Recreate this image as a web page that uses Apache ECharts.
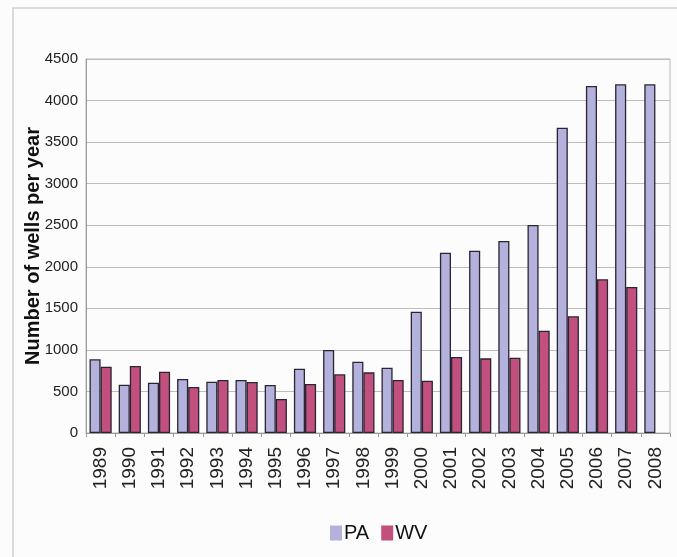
<!DOCTYPE html>
<html>
<head>
<meta charset="utf-8">
<script src="https://cdn.jsdelivr.net/npm/echarts@6/dist/echarts.min.js"></script>
<style>
  html, body { margin: 0; padding: 0; background: #fcfcfc; }
  #chart { width: 677px; height: 557px; }
</style>
</head>
<body>
<div id="chart"></div>
<script>
// years on the x axis
var years = ['1989', '1990', '1991', '1992', '1993', '1994', '1995', '1996', '1997', '1998',
	'1999', '2000', '2001', '2002', '2003', '2004', '2005', '2006', '2007', '2008'];

// wells per year
var paWells = [887, 581, 605, 650, 618, 638, 578, 774, 999, 858,
	786, 1460, 2170, 2194, 2310, 2503, 3674, 4176, 4196, 4196];
var wvWells = [798, 806, 738, 553, 638, 614, 409, 590, 706, 730,
	638, 630, 914, 898, 906, 1231, 1404, 1850, 1757, null];

var yTicks = [0, 500, 1000, 1500, 2000, 2500, 3000, 3500, 4000, 4500];

var chart = echarts.init(document.getElementById('chart'));

chart.setOption({
	backgroundColor: '#fcfcfc',
	animation: false,
	graphic: [{
		type: 'rect',
		shape: { x: 13, y: 8, width: 680, height: 560 },
		style: { fill: 'none', stroke: '#cfcfcf', lineWidth: 1.5 },
		silent: true
	}],
	grid: {
		left: 86,
		right: 7,
		top: 59,
		bottom: 124,
		show: true,
		borderColor: '#b8b8b8',
		borderWidth: 1
	},
	legend: {
		data: ['PA', 'WV'],
		left: 325,
		top: 518,
		itemWidth: 12,
		itemHeight: 15,
		itemGap: 12,
		icon: 'rect',
		itemStyle: { borderWidth: 0 },
		textStyle: {
			fontFamily: '"Liberation Sans", Arial, sans-serif',
			fontSize: 20,
			color: '#111',
			padding: [0, 0, 0, -3]
		}
	},
	xAxis: {
		type: 'category',
		data: years,
		axisLine: { lineStyle: { color: '#9a9a9a', width: 1 } },
		axisTick: { show: true, length: 4, lineStyle: { color: '#9a9a9a' } },
		axisLabel: {
			rotate: 90,
			margin: 14,
			fontFamily: '"Liberation Sans", Arial, sans-serif',
			fontSize: 19,
			color: '#222'
		}
	},
	yAxis: {
		type: 'value',
		min: 0,
		max: 4500,
		interval: 500,
		name: 'Number of wells per year',
		nameLocation: 'middle',
		nameGap: 43,
		nameMoveOverlap: false,
		nameTextStyle: {
			fontFamily: '"Liberation Sans", Arial, sans-serif',
			fontWeight: 'bold',
			fontSize: 20,
			color: '#111'
		},
		axisLine: { show: true, lineStyle: { color: '#9a9a9a' } },
		axisTick: { show: false },
		splitLine: { lineStyle: { color: '#bdbdbd', width: 1 } },
		axisLabel: {
			margin: 8,
			fontFamily: '"Liberation Sans", Arial, sans-serif',
			fontSize: 15,
			color: '#222',
			formatter: function (v) { return yTicks.indexOf(v) >= 0 ? String(v) : ''; }
		}
	},
	series: [{
		name: 'PA',
		type: 'bar',
		data: paWells,
		barGap: '0%',
		barCategoryGap: '24%',
		itemStyle: { color: '#b2b2dc', borderColor: '#2b2433', borderWidth: 1.3 }
	}, {
		name: 'WV',
		type: 'bar',
		data: wvWells,
		barGap: '0%',
		barCategoryGap: '24%',
		itemStyle: { color: '#c1507f', borderColor: '#2b2433', borderWidth: 1.3 }
	}]
});
</script>
</body>
</html>
